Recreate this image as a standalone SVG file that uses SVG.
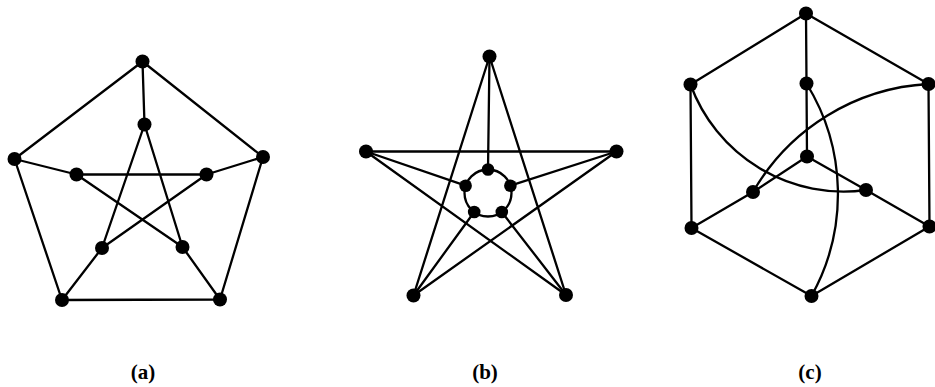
<svg xmlns="http://www.w3.org/2000/svg" width="935" height="387" viewBox="0 0 935 387">
<style>
.e{stroke:#000;stroke-width:2.3;fill:none;stroke-linecap:round}
.n{fill:#000}
.lbl{font-family:"Liberation Serif","Times New Roman",serif;font-weight:bold;font-size:21px;text-anchor:middle;fill:#000}
</style>
<rect width="935" height="387" fill="#fff"/>
<g id="connectors">
<!-- (a) -->
<path class="e" d="M142.5,61.5 L14.5,159 M142.5,61.5 L263,157 M14.5,159 L62,300 M263,157 L220,299.5 M62,300 L220,299.5"/>
<path class="e" d="M142.5,61.5 L144.5,124.5 M14.5,159 L76.5,174.5 M263,157 L206.5,174.5 M62,300 L102,248 M220,299.5 L182.5,247"/>
<path class="e" d="M144.5,124.5 L102,248 M144.5,124.5 L182.5,247 M76.5,174.5 L206.5,174.5 M76.5,174.5 L182.5,247 M206.5,174.5 L102,248"/>
<!-- (b) -->
<path class="e" d="M489.5,56.5 L413.5,295.5 M489.5,56.5 L566,295 M366,151.5 L616.5,151.5 M366,151.5 L566,295 M616.5,151.5 L413.5,295.5"/>
<path class="e" d="M489.5,56.5 L488,169.5 M366,151.5 L465.6,185.7 M616.5,151.5 L510.4,185.7 M413.5,295.5 L474.2,212 M566,295 L501.8,212"/>
<circle class="e" cx="488" cy="193" r="23.5"/>
<!-- (c) -->
<path class="e" d="M806,13.5 L690.5,84.5 M806,13.5 L928.5,84 M806,13.5 L806.5,83.5 M690.5,84.5 L691.5,228 M928.5,84 L929.5,226.5 M691.5,228 L811.5,296 M929.5,226.5 L811.5,296"/>
<path class="e" d="M806.5,83.5 L807,156.5 M807,156.5 L753,192 L691.5,228 M807,156.5 L866,190 L929.5,226.5"/>
<path class="e" d="M690.5,84.5 A163,163 0 0 0 866,190"/>
<path class="e" d="M928.5,84 A216,216 0 0 0 753,192"/>
<path class="e" d="M806.5,83.5 A210,210 0 0 1 811.5,296"/>
</g>
<g id="graph-a">
<circle class="n" cx="142.5" cy="61.5" r="7"/>
<circle class="n" cx="144.5" cy="124.5" r="7"/>
<circle class="n" cx="14.5" cy="159" r="7"/>
<circle class="n" cx="263" cy="157" r="7"/>
<circle class="n" cx="76.5" cy="174.5" r="7"/>
<circle class="n" cx="206.5" cy="174.5" r="7"/>
<circle class="n" cx="102" cy="248" r="7"/>
<circle class="n" cx="182.5" cy="247" r="7"/>
<circle class="n" cx="62" cy="300" r="7"/>
<circle class="n" cx="220" cy="299.5" r="7"/>
</g>
<g id="graph-b">
<circle class="n" cx="489.5" cy="56.5" r="7"/>
<circle class="n" cx="366" cy="151.5" r="7"/>
<circle class="n" cx="616.5" cy="151.5" r="7"/>
<circle class="n" cx="413.5" cy="295.5" r="7"/>
<circle class="n" cx="566" cy="295" r="7"/>
<circle class="n" cx="488" cy="169.5" r="6.3"/>
<circle class="n" cx="465.6" cy="185.7" r="6.3"/>
<circle class="n" cx="510.4" cy="185.7" r="6.3"/>
<circle class="n" cx="474.2" cy="212" r="6.3"/>
<circle class="n" cx="501.8" cy="212" r="6.3"/>
</g>
<g id="graph-c">
<circle class="n" cx="806" cy="13.5" r="7"/>
<circle class="n" cx="690.5" cy="84.5" r="7"/>
<circle class="n" cx="806.5" cy="83.5" r="7"/>
<circle class="n" cx="928.5" cy="84" r="7"/>
<circle class="n" cx="807" cy="156.5" r="7"/>
<circle class="n" cx="753" cy="192" r="7"/>
<circle class="n" cx="866" cy="190" r="7"/>
<circle class="n" cx="691.5" cy="228" r="7"/>
<circle class="n" cx="929.5" cy="226.5" r="7"/>
<circle class="n" cx="811.5" cy="296" r="7"/>
</g>
<g id="labels">
<text class="lbl" x="143" y="379">(a)</text>
<text class="lbl" x="485" y="379">(b)</text>
<text class="lbl" x="810" y="379">(c)</text>
</g>
</svg>
